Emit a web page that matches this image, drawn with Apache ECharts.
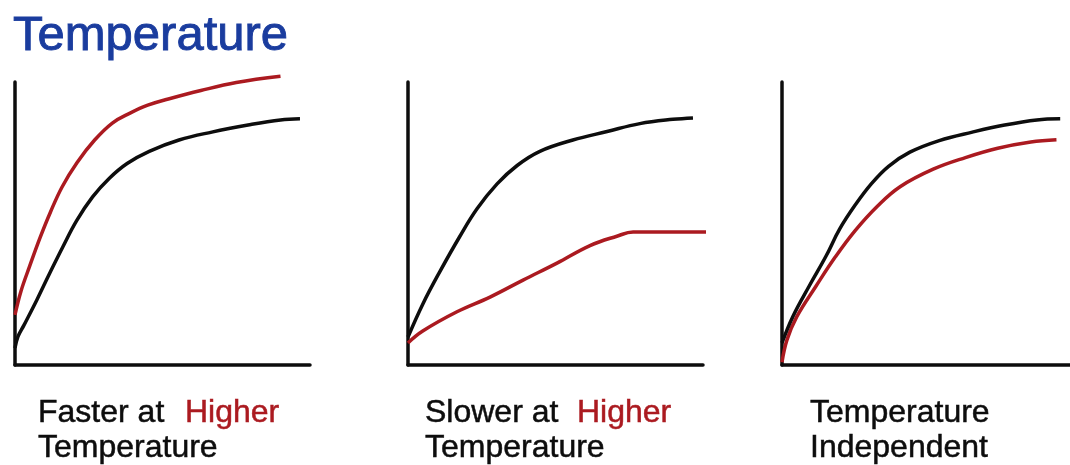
<!DOCTYPE html>
<html>
<head>
<meta charset="utf-8">
<script src="https://cdn.jsdelivr.net/npm/echarts@6/dist/echarts.min.js"></script>
<style>
html,body{margin:0;padding:0;background:#fff;}
#chart{width:1070px;height:465px;}
</style>
</head>
<body>
<div id="chart"></div>
<script>
// ---- data (x: 0..100 along the axis, y: 0..100 up the axis) ----
const titleText = 'Temperature';
const captionLine1 = ['Faster at', 'Slower at', 'Temperature'];
const captionHigh = ['Higher', 'Higher', ''];
const captionLine2 = ['Temperature', 'Temperature', 'Independent'];

const p1Black = [[0,6],[1,10],[3,14],[7.4,23],[11.8,32.5],[16.2,41.7],[20.9,51],[26.3,59.4],[32,66],[38,71.2],[45.5,75.5],[55.6,79.5],[66.7,82.3],[79,84.8],[90,86.6],[96.6,87]];
const p1Red = [[0,17.7],[2,26],[5,35],[8.5,45],[12,54],[16,63],[21,71.5],[27,79.5],[33,85.5],[39,89],[45,91.8],[52,94],[63,97],[75,99.8],[90,102]];

const p2Black = [[0,9.9],[5,21.5],[10.8,33],[17.6,45.5],[23.4,55.2],[30.2,64],[37,70.5],[44.7,75.5],[55.9,79.5],[67.5,82.5],[78.6,85.3],[89.8,86.8],[96.6,87.3]];
const p2Red = [[0,7.8],[5,12],[16.6,18.8],[27.8,24],[39,30],[50.5,36],[61.7,42.2],[70.8,45.5],[76.3,47],[89.8,47],[102.4,47]];

const p3Black = [[0,7.8],[3.7,17],[9.5,28],[15.3,38.5],[20,48],[25.4,56.5],[31,64],[37,70.2],[44.4,75.2],[54.6,79.3],[66.1,82.3],[77.3,84.8],[88.5,86.6],[96.6,87]];
const p3Red = [[0,1],[1.7,8.8],[5.1,17],[11.9,28],[18.6,38.3],[25.4,47.5],[33.2,56.2],[41,63],[52.5,69.2],[63.7,73.3],[74.9,76.6],[86.4,78.8],[95.3,79.6]];

// ---- styling ----
const RED = '#ab1a20';
const BLACK = '#0d0d0d';
const BLUE = '#1a3c9e';
const FONT = '"Liberation Sans", Arial, sans-serif';

const gridLefts = [15, 408, 782];
const panels = [[p1Black, p1Red], [p2Black, p2Red], [p3Black, p3Red]];

const grids = gridLefts.map(l => ({ left: l, top: 82, width: 295, height: 283 }));
const axisLineStyle = { show: true, onZero: false, lineStyle: { color: BLACK, width: 3.5 } };
const xAxes = grids.map((g, i) => ({
  type: 'value', gridIndex: i, min: 0, max: 100,
  axisLine: axisLineStyle, axisTick: { show: false }, axisLabel: { show: false }, splitLine: { show: false }
}));
const yAxes = grids.map((g, i) => ({
  type: 'value', gridIndex: i, min: 0, max: 100,
  axisLine: axisLineStyle, axisTick: { show: false }, axisLabel: { show: false }, splitLine: { show: false }
}));

const series = [];
panels.forEach((pair, i) => {
  series.push({ type: 'line', xAxisIndex: i, yAxisIndex: i, data: pair[1], smooth: 0.4, showSymbol: false, clip: false,
    lineStyle: { color: RED, width: 3.5 }, silent: true, z: 3 });
  series.push({ type: 'line', xAxisIndex: i, yAxisIndex: i, data: pair[0], smooth: 0.4, showSymbol: false, clip: false,
    lineStyle: { color: BLACK, width: 3.5 }, silent: true, z: 4 });
});

const capX = [38, 425, 810];
const highX = [185, 577, 0];
const graphics = [
  { type: 'text', x: 13, y: 36, style: { text: titleText, font: 'normal 49px ' + FONT, fill: BLUE, stroke: BLUE, lineWidth: 0.9, verticalAlign: 'middle' } }
];
capX.forEach((x, i) => {
  graphics.push({ type: 'text', x: x, y: 413, style: { text: captionLine1[i], font: 'normal 32px ' + FONT, fill: BLACK, stroke: BLACK, lineWidth: 0.5, verticalAlign: 'middle' } });
  if (captionHigh[i]) {
    graphics.push({ type: 'text', x: highX[i], y: 413, style: { text: captionHigh[i], font: 'normal 32px ' + FONT, fill: RED, stroke: RED, lineWidth: 0.5, verticalAlign: 'middle' } });
  }
  graphics.push({ type: 'text', x: x, y: 448, style: { text: captionLine2[i], font: 'normal 32px ' + FONT, fill: BLACK, stroke: BLACK, lineWidth: 0.5, verticalAlign: 'middle' } });
});

const chart = echarts.init(document.getElementById('chart'), null, { renderer: 'canvas' });
chart.setOption({
  animation: false,
  backgroundColor: '#ffffff',
  grid: grids,
  xAxis: xAxes,
  yAxis: yAxes,
  series: series,
  graphic: graphics
});
</script>
</body>
</html>
